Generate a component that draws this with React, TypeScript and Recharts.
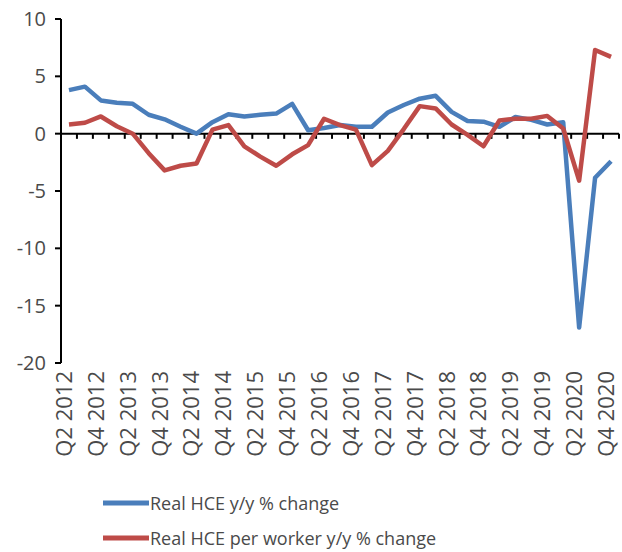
import {
  LineChart,
  Line,
  XAxis,
  YAxis,
  ReferenceLine,
  Legend,
} from "recharts";

// quarterly categories, Q2 2012 .. Q4 2020
const quarters = [
  "Q2 2012", "Q3 2012", "Q4 2012", "Q1 2013", "Q2 2013", "Q3 2013", "Q4 2013",
  "Q1 2014", "Q2 2014", "Q3 2014", "Q4 2014", "Q1 2015", "Q2 2015", "Q3 2015",
  "Q4 2015", "Q1 2016", "Q2 2016", "Q3 2016", "Q4 2016", "Q1 2017", "Q2 2017",
  "Q3 2017", "Q4 2017", "Q1 2018", "Q2 2018", "Q3 2018", "Q4 2018", "Q1 2019",
  "Q2 2019", "Q3 2019", "Q4 2019", "Q1 2020", "Q2 2020", "Q3 2020", "Q4 2020",
];

const realHce = [
  3.8, 4.1, 2.9, 2.7, 2.6, 1.65, 1.25, 0.6, 0.0, 1.0, 1.7, 1.5, 1.65, 1.75,
  2.6, 0.3, 0.5, 0.75, 0.6, 0.6, 1.85, 2.5, 3.05, 3.3, 1.9, 1.1, 1.05, 0.6,
  1.45, 1.2, 0.8, 1.0, -16.9, -3.85, -2.4,
];

const realHcePerWorker = [
  0.8, 0.95, 1.5, 0.65, 0.0, -1.7, -3.2, -2.8, -2.6, 0.35, 0.75, -1.1, -2.0,
  -2.8, -1.8, -1.0, 1.3, 0.75, 0.35, -2.75, -1.5, 0.4, 2.4, 2.2, 0.8, -0.1,
  -1.1, 1.15, 1.3, 1.3, 1.55, 0.45, -4.1, 7.3, 6.7,
];

const yTicks = [-20, -15, -10, -5, 0, 5, 10];
const labelIdx = quarters.map((_, i) => i).filter((i) => i % 2 === 0);
const boundaries = quarters.map((_, i) => i + 0.5);

const BLUE = "#4a7ebb";
const RED = "#be4b48";
const FONT = "'Open Sans', sans-serif";
const TEXT = "#4a4a4a";

const data = quarters.map((q, i) => ({
  idx: i,
  q,
  hce: realHce[i],
  perWorker: realHcePerWorker[i],
}));

const series = [
  { key: "hce", name: "Real HCE y/y % change", color: BLUE },
  { key: "perWorker", name: "Real HCE per worker y/y % change", color: RED },
];

function QuarterTick({ x, y, payload }: any) {
  const tx = x - 5;
  return (
    <text
      x={tx}
      y={y}
      transform={`rotate(-90, ${tx}, ${y})`}
      textAnchor="end"
      dy="0.36em"
      fontSize={22}
      fontFamily={FONT}
      fill={TEXT}
    >
      {quarters[payload.value]}
    </text>
  );
}

function LegendBox() {
  return (
    <div style={{ fontFamily: FONT, fontSize: 18, color: TEXT, paddingTop: 2 }}>
      {series.map((s) => (
        <div key={s.key} style={{ display: "flex", alignItems: "center", height: 35 }}>
          <svg width={46} height={8}>
            <line x1={0} y1={4} x2={46} y2={4} stroke={s.color} strokeWidth={5} strokeLinecap="round" />
          </svg>
          <span style={{ marginLeft: 1 }}>{s.name}</span>
        </div>
      ))}
    </div>
  );
}

export default function App() {
  return (
    <div style={{ position: "absolute", left: 0, top: 0, background: "#fff" }}>
      <LineChart
        width={622}
        height={552}
        data={data}
        margin={{ top: 19, right: 3, left: 0, bottom: 0 }}
      >
        <XAxis
          dataKey="idx"
          type="number"
          domain={[-0.5, quarters.length - 0.5]}
          ticks={labelIdx}
          interval={0}
          axisLine={false}
          tickLine={false}
          tickSize={6}
          tickMargin={2}
          height={120}
          tick={<QuarterTick />}
        />
        <YAxis
          domain={[-20, 10]}
          ticks={yTicks}
          width={61}
          axisLine={{ stroke: "#000", strokeWidth: 2 }}
          tickLine={{ stroke: "#000", strokeWidth: 2 }}
          tickSize={6}
          tickMargin={9}
          tick={{ fontSize: 20, fontFamily: FONT, fill: TEXT }}
        />
        <ReferenceLine y={0} stroke="#000" strokeWidth={2} />
        {boundaries.map((b) => (
          <ReferenceLine
            key={b}
            segment={[
              { x: b, y: 0 },
              { x: b, y: -0.45 },
            ]}
            stroke="#000"
            strokeWidth={2}
          />
        ))}
        {series.map((s) => (
          <Line
            key={s.key}
            type="linear"
            dataKey={s.key}
            name={s.name}
            stroke={s.color}
            strokeWidth={4.5}
            strokeLinejoin="round"
            dot={false}
            isAnimationActive={false}
          />
        ))}
        <Legend
          verticalAlign="bottom"
          height={69}
          content={<LegendBox />}
          wrapperStyle={{ left: 103, width: 420 }}
        />
      </LineChart>
    </div>
  );
}
